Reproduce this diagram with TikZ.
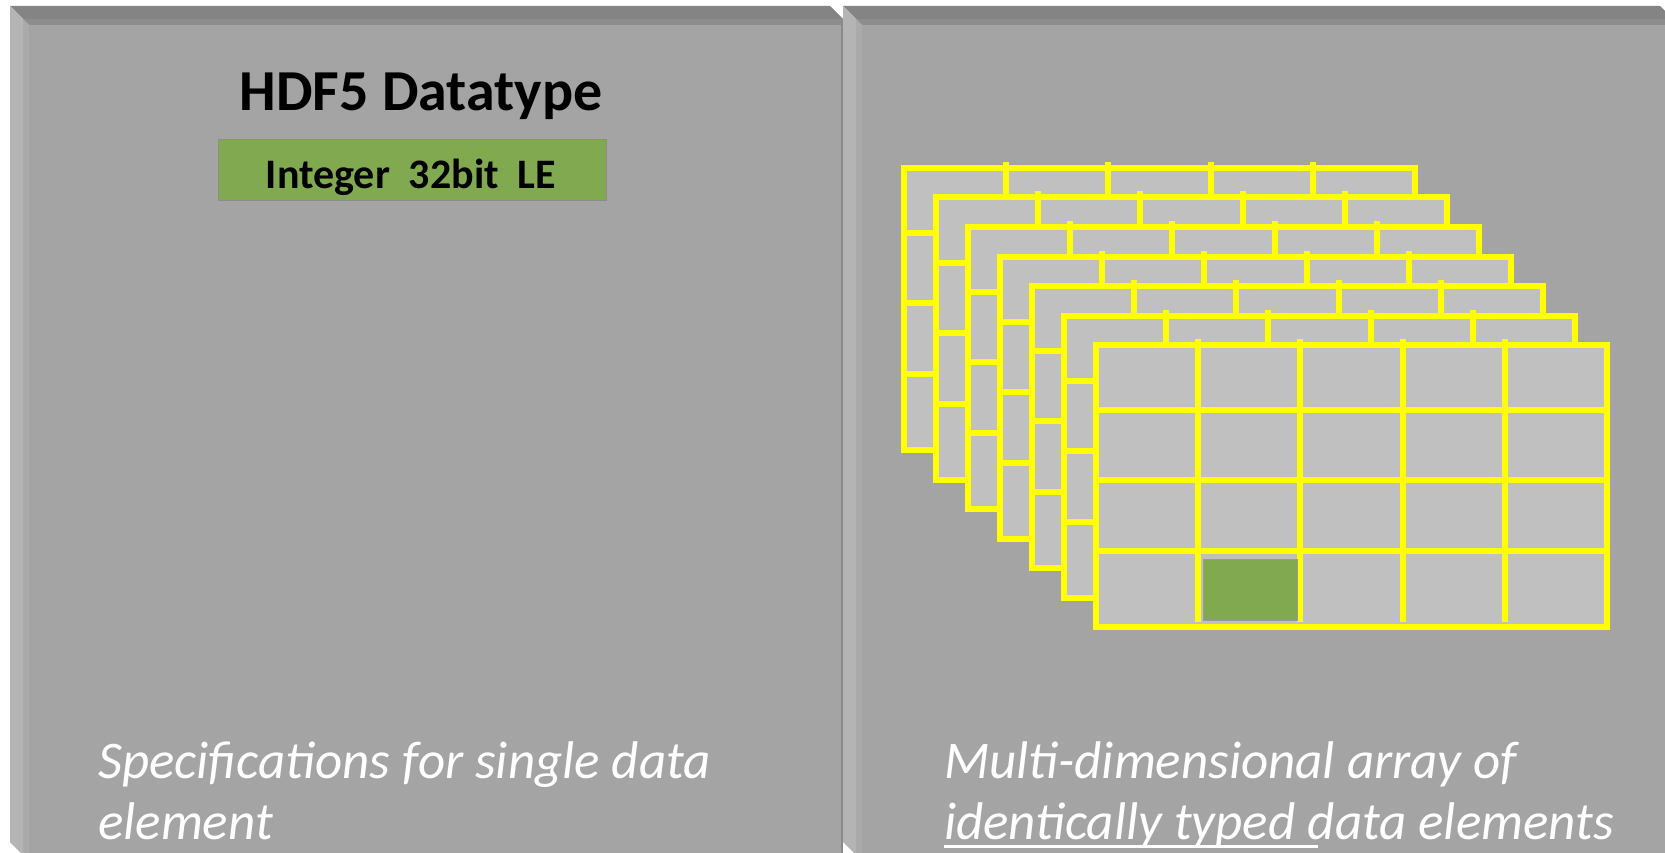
\documentclass[tikz,border=0pt]{standalone}
\usepackage{fontspec}
\setmainfont{Carlito}

\definecolor{slabface}{RGB}{164,164,164}
\definecolor{slabtop}{RGB}{132,132,132}
\definecolor{slabtopband}{RGB}{141,141,141}
\definecolor{slableft}{RGB}{180,180,180}
\definecolor{slableftband}{RGB}{170,170,170}
\definecolor{slabedge}{RGB}{138,138,138}
\definecolor{cellgray}{RGB}{192,192,192}
\definecolor{gridyellow}{RGB}{255,255,0}
\definecolor{typegreen}{RGB}{129,170,80}

\begin{document}
\begin{tikzpicture}[x=1pt,y=-1pt,
  gridline/.style={draw=gridyellow,line width=6pt},
  titletext/.style={inner sep=0pt,font=\fontsize{58}{60}\selectfont\bfseries},
  typebox/.style={draw=gray!90,line width=0.8pt,fill=typegreen,inner sep=0pt},
  typetext/.style={inner sep=0pt,font=\fontsize{42}{44}\selectfont\bfseries},
  captext/.style={inner sep=0pt,anchor=base west,text=white,font=\fontsize{53}{58}\selectfont\itshape},
]
\clip (0,0) rectangle (1665,853);
\fill[white] (0,0) rectangle (1665,853);

% two bevelled slabs seen from the upper left
\foreach \xa/\xb in {10/830, 843/1660} {
  \fill[slabface] ({\xa+13},19) rectangle ({\xb+13},855);
  \fill[slabtopband] ({\xa+13},19) -- ({\xb+13},19) -- ({\xb+13},25) -- ({\xa+19},25) -- cycle;
  \fill[slableftband] ({\xa+13},19) -- ({\xa+19},25) -- ({\xa+19},855) -- ({\xa+13},855) -- cycle;
  \fill[slabtop] (\xa,6) -- (\xb,6) -- ({\xb+13},19) -- ({\xa+13},19) -- cycle;
  \fill[slableft] (\xa,6) -- ({\xa+13},19) -- ({\xa+13},855) -- (\xa,842) -- cycle;
  \draw[slabedge,line width=2pt] ({\xb+12},19) -- ({\xb+12},855);
}

% left slab: the datatype
\node[titletext,anchor=base] (title) at (421,111) {HDF5 Datatype};
\node[typebox,minimum width=388pt,minimum height=61pt] (dtype) at (412,169.5) {};
\node[typetext,anchor=base] (dtypetext) at (411,189) {Integer\ \ 32bit\ \ LE};

% right slab: stack of 2-D arrays
\foreach \k in {0,...,6} {
  \begin{scope}[shift={({904+32*\k},{168+29.5*\k})}]
    \fill[cellgray] (0,0) rectangle (511,282);
    \foreach \r in {65,135,206}
      \draw[gridline] (0,\r) -- (511,\r);
    \foreach \c in {102.2,204.4,306.6,408.8}
      \draw[gridline] (\c,-6) -- (\c,277);
    \draw[gridline] (0,0) rectangle (511,282);
  \end{scope}
}
\fill[typegreen,draw=gray!80,line width=0.8pt] (1203,559) rectangle (1297,620);

% captions
\node[captext] (lcap1) at (98,778) {Specifications for single data};
\node[captext] (lcap2) at (98,839) {element};
\node[captext] (rcap1) at (944,778) {Multi-dimensional array of};
\node[captext] (rcap2u) at (944,839) {identically typed\ \mbox{}};
\node[captext] (rcap2) at (rcap2u.base east) {data elements};
\draw[white,line width=3pt] ([yshift=-7pt]rcap2u.base west) -- ([xshift=10pt,yshift=-7pt]rcap2u.base east);
\end{tikzpicture}
\end{document}
